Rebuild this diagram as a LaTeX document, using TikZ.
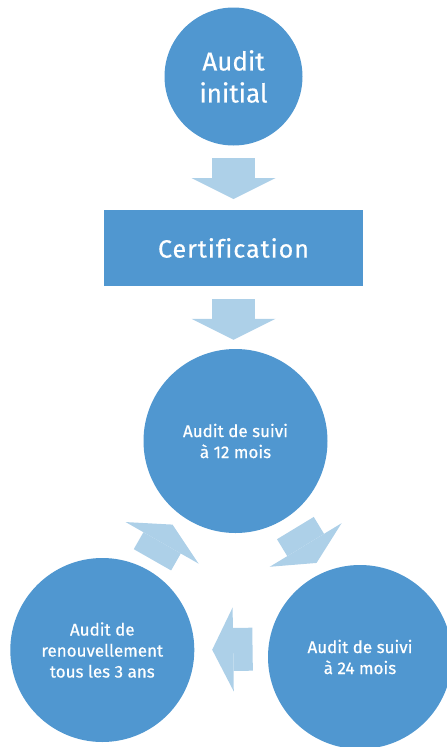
\documentclass[tikz,border=0pt]{standalone}
\usepackage{fontspec}
\setmainfont{Fira Sans}[Ligatures={TeX,NoCommon}, FakeBold=0.5]
\usepackage{tikz}
\usetikzlibrary{calc}
\usetikzlibrary{positioning,shapes}
\usetikzlibrary{arrows.meta}
\definecolor{stageblue}{RGB}{80,151,208}
\definecolor{flowblue}{RGB}{173,208,232}
\tikzset{
  stage/.style={circle, fill=stageblue, text=white, inner sep=0pt, align=center},
  flow/.style={color=flowblue, line width=43pt, -{Triangle[width=84pt,length=21pt,line width=0pt]}}
}
\newcommand{\bigtxt}{\fontsize{26}{32}\selectfont}
\newcommand{\smalltxt}{\fontsize{17}{21}\selectfont}

\begin{document}
\begin{tikzpicture}[x=1pt,y=-1pt]
  \useasboundingbox (0,0) rectangle (447,747);
  \node[stage, minimum size=138pt, font=\bigtxt] (Init) at (233.5,76.5) {Audit\\initial};
  \node[fill=stageblue, text=white, minimum width=259pt, minimum height=76pt, font=\fontsize{25}{29}\selectfont\addfontfeatures{LetterSpace=4}] (Cert) at (233.5,248) {Certification};
  \node[stage, minimum size=184pt, font=\smalltxt] (Suivi12) at (235.5,441) {Audit de suivi\\à 12 mois};
  \node[stage, minimum size=184pt, font=\smalltxt] (Suivi24) at (360,657) {Audit de suivi\\à 24 mois};
  \node[stage, minimum size=184pt, font=\smalltxt] (Renouv) at (102.3,650) {Audit de\\renouvellement\\tous les 3 ans};
  \path[flow]
  (Init) edge[shorten <=12.5pt, shorten >=10.7pt] (Cert)
  (Cert.south) edge[shorten <=13pt, shorten >=9pt] (Cert.south |- Suivi12.north)
  (Suivi12.-55) edge[shorten <=13.5pt, shorten >=11.5pt] (Suivi24.114)
  (Suivi24.175) edge[shorten <=15.6pt, shorten >=17.7pt] (Renouv.0)
  (Renouv.61) edge[shorten <=11pt, shorten >=12.6pt] (Suivi12.232);
\end{tikzpicture}
\end{document}
